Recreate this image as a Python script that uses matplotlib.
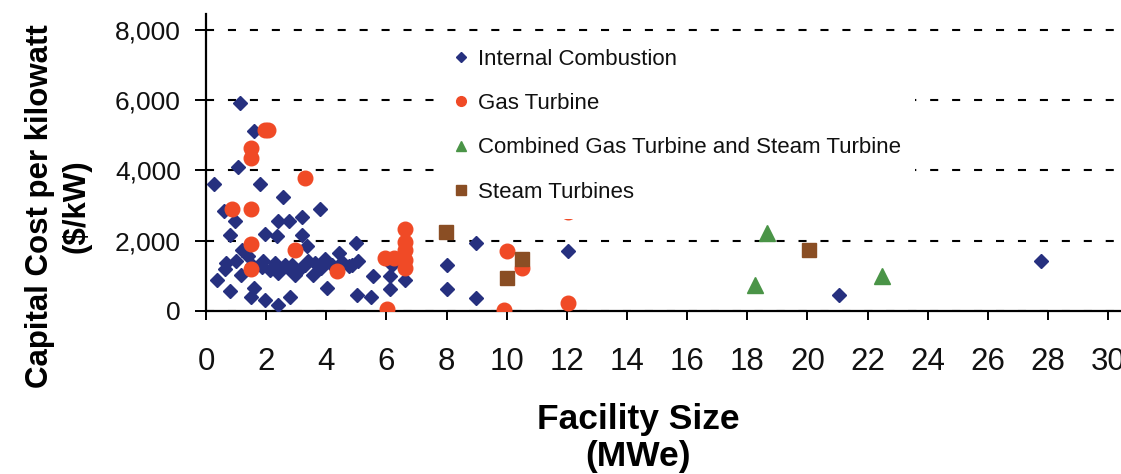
import matplotlib
matplotlib.use("Agg")
import matplotlib.pyplot as plt
from matplotlib.lines import Line2D
from matplotlib.patches import Rectangle
from matplotlib.ticker import FixedLocator, FuncFormatter

plt.rcParams['font.family'] = ['Liberation Sans', 'DejaVu Sans']
plt.rcParams['lines.scale_dashes'] = False

# ---------------- data ----------------
ic_x = [1.13, 1.58, 1.08, 0.25, 1.80, 2.55, 3.78, 0.61, 0.97, 2.41, 2.75, 3.19,
        0.80, 1.97, 2.36, 3.19, 5.00, 1.19, 3.36, 4.41, 0.35, 0.80, 1.58, 1.50,
        1.97, 2.41, 2.80, 4.03, 5.03, 5.50, 5.55, 4.74, 0.68, 1.01, 1.40, 1.90,
        2.12, 2.40, 2.74, 1.18, 2.85, 3.40, 3.96, 4.85, 5.07, 2.96, 3.57, 3.84,
        3.17, 1.53, 2.30, 2.63, 3.30, 3.63, 4.20, 4.53, 0.63, 1.86, 6.20, 6.12,
        6.12, 6.61, 8.98, 8.03, 8.03, 8.98, 12.03, 21.04, 27.77]
ic_y = [5930, 5120, 4100, 3620, 3600, 3250, 2890, 2840, 2550, 2550, 2550, 2680,
        2150, 2200, 2120, 2170, 1930, 1740, 1840, 1650, 880, 550, 650, 400,
        310, 150, 380, 650, 460, 400, 1000, 1270, 1360, 1410, 1550, 1410,
        1170, 1080, 1220, 1030, 1310, 1410, 1460, 1310, 1410, 1030, 1030, 1230,
        1230, 1300, 1350, 1300, 1300, 1350, 1300, 1400, 1200, 1250, 1300, 1000,
        620, 870, 1930, 1290, 620, 360, 1700, 460, 1430]

gt_x = [1.95, 2.05, 1.50, 1.50, 3.28, 0.86, 1.50, 1.50, 2.97, 1.50, 4.36, 5.95,
        6.25, 6.03, 6.61, 6.61, 6.61, 6.61, 6.61, 10.00, 10.50, 9.92, 12.03, 12.03]
gt_y = [5150, 5150, 4650, 4360, 3790, 2900, 2900, 1910, 1740, 1190, 1120, 1500,
        1500, 50, 2330, 1970, 1730, 1445, 1210, 1710, 1220, 20, 220, 2810]

cc_x = [18.65, 18.27, 22.49]
cc_y = [2220, 740, 1000]

st_x = [7.97, 10.50, 10.00, 20.05]
st_y = [2240, 1460, 930, 1740]

labels = ["Internal Combustion", "Gas Turbine",
          "Combined Gas Turbine and Steam Turbine", "Steam Turbines"]
x_ticks = list(range(0, 31, 2))
y_ticks = [0, 2000, 4000, 6000, 8000]

# ---------------- style ----------------
c_ic = '#26307f'
c_gt = '#f04a26'
c_cc = '#4a9447'
c_st = '#8a4e24'
txt = '#111111'

W, H = 1121, 474
fig = plt.figure(figsize=(W / 100, H / 100), dpi=100)
ax_l, ax_r, ax_t, ax_b = 206, 1121, 14, 310.7
ax = fig.add_axes([ax_l / W, 1 - ax_b / H, (ax_r - ax_l) / W, (ax_b - ax_t) / H])

px_per_x = 30.07
px_per_y = 0.03509
ax.set_xlim(0, (ax_r - ax_l) / px_per_x)
ax.set_ylim(0, (ax_b - ax_t) / px_per_y)

ax.plot(ic_x, ic_y, linestyle='none', marker='D', ms=7.4, mfc=c_ic, mec=c_ic, zorder=3)
ax.plot(gt_x, gt_y, linestyle='none', marker='o', ms=10.5, mfc=c_gt, mec=c_gt, zorder=3.1)
ax.plot(cc_x, cc_y, linestyle='none', marker='^', ms=11, mfc=c_cc, mec=c_cc, zorder=3.2)
ax.plot(st_x, st_y, linestyle='none', marker='s', ms=10.5, mfc=c_st, mec=c_st, zorder=3.3)

def axx(px):
    return (px - ax_l) / (ax_r - ax_l)

def axy(py):
    return (ax_b - py) / (ax_b - ax_t)

# white legend panel
lx0, lx1, ly0, ly1 = 440, 915, 33, 218.5
ax.add_patch(Rectangle((axx(lx0), axy(ly1)), axx(lx1) - axx(lx0), axy(ly0) - axy(ly1),
                       transform=ax.transAxes, facecolor='white', edgecolor='none', zorder=4))

handles = [
    Line2D([], [], linestyle='none', marker='D', ms=4.8, mfc=c_ic, mec=c_ic),
    Line2D([], [], linestyle='none', marker='o', ms=7, mfc=c_gt, mec=c_gt),
    Line2D([], [], linestyle='none', marker='^', ms=7, mfc=c_cc, mec=c_cc),
    Line2D([], [], linestyle='none', marker='s', ms=6.5, mfc=c_st, mec=c_st),
]
leg = ax.legend(handles, labels, loc='upper left',
                bbox_to_anchor=(axx(447.6), axy(42)),
                borderaxespad=0, borderpad=0.3, frameon=False, fontsize=16,
                labelspacing=1.05, handlelength=0.6, handletextpad=0.47,
                labelcolor=txt)
leg.set_zorder(5)

# grid
ax.set_axisbelow(True)
ax.grid(axis='y', color='black', linewidth=1.5, linestyle=(0, (5.8, 10)))
ax.grid(axis='x', visible=False)

# spines
for s in ['top', 'right']:
    ax.spines[s].set_visible(False)
for s in ['left', 'bottom']:
    ax.spines[s].set_linewidth(1.6)
    ax.spines[s].set_color('black')

ax.set_xticks(x_ticks)
ax.set_xticklabels([str(v) for v in x_ticks])
ax.set_yticks(y_ticks)
ax.yaxis.set_major_formatter(FuncFormatter(lambda v, p: f"{int(v):,}"))
ax.yaxis.set_minor_locator(FixedLocator(y_ticks))
ax.yaxis.remove_overlapping_locs = False

ax.tick_params(axis='x', which='major', direction='out', length=6.5, width=1.4,
               labelsize=22.5, pad=19.5, colors='black', labelcolor=txt)
ax.tick_params(axis='y', which='major', direction='out', length=8, width=1.4,
               labelsize=19, pad=10, colors='black', labelcolor=txt)
ax.tick_params(axis='y', which='minor', direction='in', length=4.5, width=1.4, colors='black')

fig.text(58 / W, 1 - 206 / H, "Capital Cost per kilowatt\n($/kW)", rotation=90,
         ha='center', va='center', multialignment='center', fontsize=22.5,
         fontweight='bold', linespacing=1.3, color='black')
fig.text(638 / W, 1 - 438 / H, "Facility Size\n(MWe)", ha='center', va='center',
         multialignment='center', fontsize=25.5, fontweight='bold',
         linespacing=1.12, color='black')

fig.savefig("out.png", dpi=100, facecolor='white')
